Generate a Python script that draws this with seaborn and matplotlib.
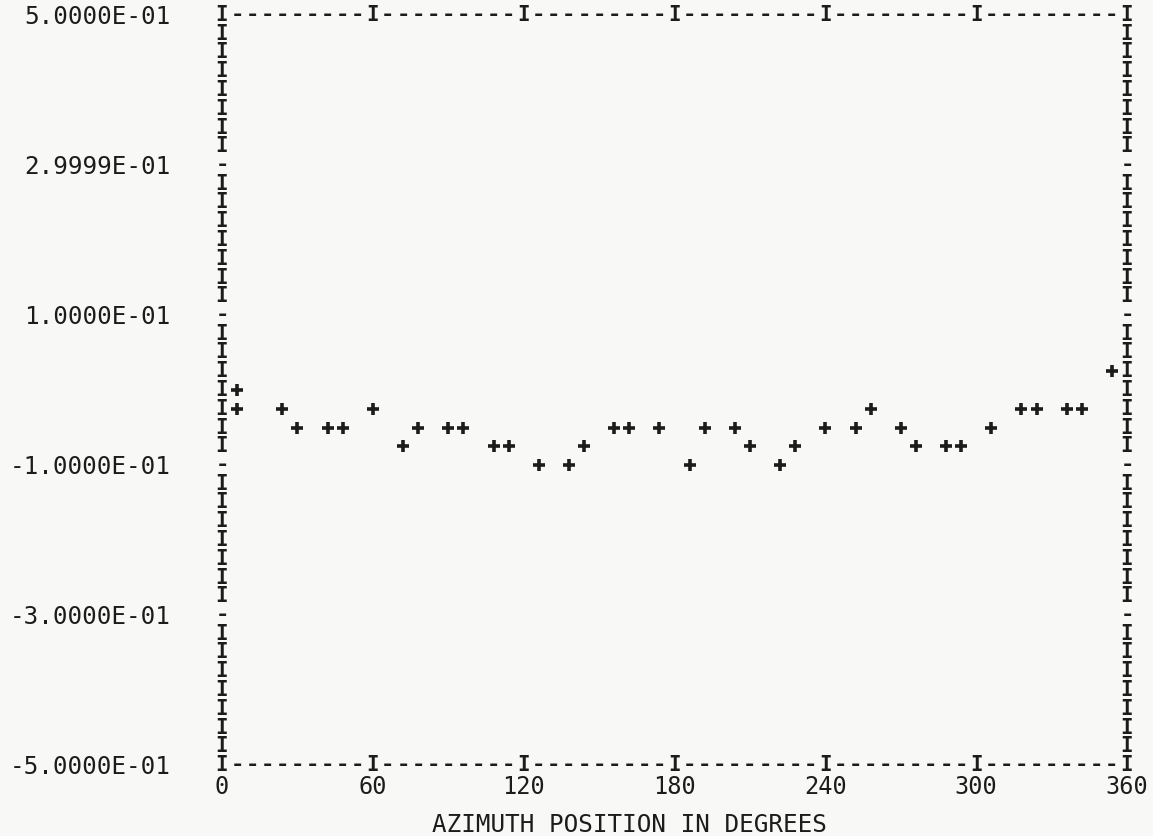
import matplotlib
matplotlib.use("Agg")
import matplotlib.pyplot as plt
import seaborn as sns
import pandas as pd

# Azimuth sweep (degrees) and measured response
azimuth = [6, 6, 24, 30, 42, 48, 60, 72, 78, 90, 96, 108, 114, 126, 138, 144,
           156, 162, 174, 186, 192, 204, 210, 222, 228, 240, 252, 258, 270,
           276, 288, 294, 306, 318, 324, 336, 342, 354]
response = [0.0, -0.025, -0.025, -0.05, -0.05, -0.05, -0.025, -0.075, -0.05,
            -0.05, -0.05, -0.075, -0.075, -0.1, -0.1, -0.075, -0.05, -0.05,
            -0.05, -0.1, -0.05, -0.05, -0.075, -0.1, -0.075, -0.05, -0.05,
            -0.025, -0.05, -0.075, -0.075, -0.075, -0.05, -0.025, -0.025,
            -0.025, -0.025, 0.025]

x_ticks = [0, 60, 120, 180, 240, 300, 360]
x_tick_labels = ["0", "60", "120", "180", "240", "300", "360"]
y_ticks = [0.5, 0.3, 0.1, -0.1, -0.3, -0.5]
y_tick_labels = ["5.0000E-01", "2.9999E-01", "1.0000E-01", "-1.0000E-01",
                 "-3.0000E-01", "-5.0000E-01"]
x_label = "AZIMUTH POSITION IN DEGREES"

df = pd.DataFrame({"azimuth": azimuth, "response": response})

sns.set_style("white")
plt.rcParams["font.family"] = ["DejaVu Sans Mono", "DejaVu Sans"]

ink = "#1c1c1c"
paper = "#f8f8f6"
fs = 17.5

fig = plt.figure(figsize=(11.53, 8.36), dpi=100, facecolor=paper)
ax = fig.add_axes([222 / 1153, 71 / 836, 905 / 1153, 750 / 836])
ax.set_facecolor(paper)

sns.scatterplot(data=df, x="azimuth", y="response", marker="+", s=65,
                color=ink, linewidth=2.6, ax=ax, legend=False, zorder=3)

ax.set_xlim(0, 360)
ax.set_ylim(-0.5, 0.5)
for sp in ax.spines.values():
    sp.set_visible(False)

# Line-printer style frame: one character per print cell
col_deg = 6.0      # degrees per print column
row_val = 0.025    # value per print row
n_cols = 60
n_rows = 40
bar_kw = dict(ha="center", va="center", fontsize=15, color=ink,
              fontweight="bold", clip_on=False, zorder=2)
dash_kw = dict(ha="center", va="center", fontsize=16, color=ink,
               fontweight="bold", clip_on=False, zorder=2)
for c in range(1, n_cols):
    if c % 10 == 0:
        ax.text(c * col_deg, 0.5, "I", **bar_kw)
        ax.text(c * col_deg, -0.5, "I", **bar_kw)
    else:
        ax.text(c * col_deg, 0.5, "-", **dash_kw)
        ax.text(c * col_deg, -0.5, "-", **dash_kw)
for r in range(0, n_rows + 1):
    y = 0.5 - r * row_val
    if r % 8 == 0 and 0 < r < n_rows:
        ax.text(0, y, "-", **dash_kw)
        ax.text(360, y, "-", **dash_kw)
    else:
        ax.text(0, y, "I", **bar_kw)
        ax.text(360, y, "I", **bar_kw)

ax.set_xticks(x_ticks)
ax.set_xticklabels(x_tick_labels)
ax.set_yticks(y_ticks)
ax.set_yticklabels(y_tick_labels)
ax.tick_params(axis="both", length=0, labelsize=fs, labelcolor=ink)
ax.tick_params(axis="y", pad=37)
ax.tick_params(axis="x", pad=7, labelsize=17)

ax.set_xlabel(x_label, fontsize=fs, color=ink, labelpad=10, x=0.45)
ax.set_ylabel("")

fig.savefig("out.png", dpi=100, facecolor=paper)
